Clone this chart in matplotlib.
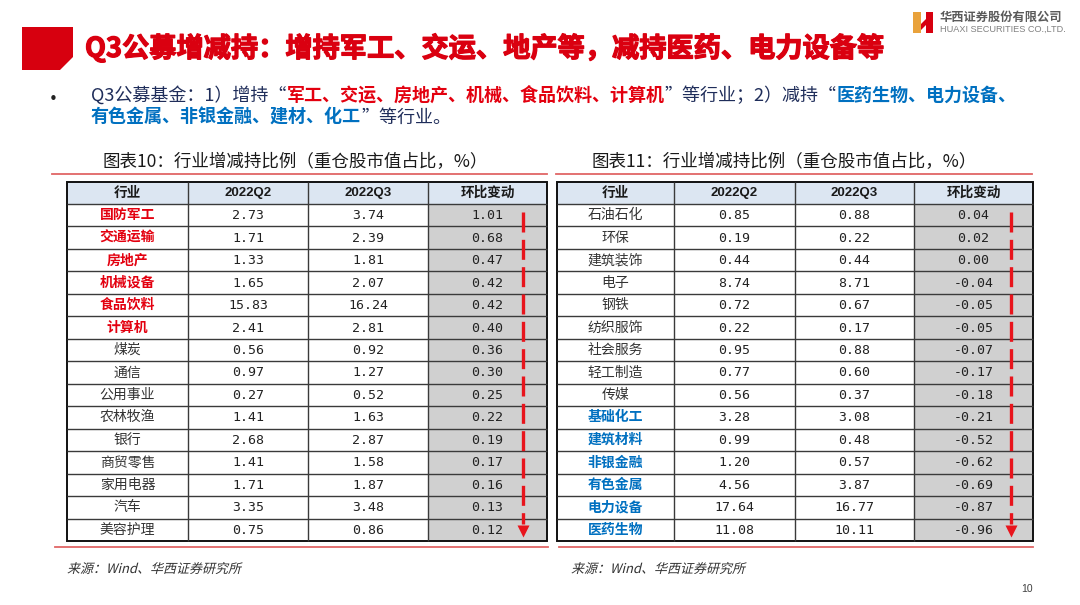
import matplotlib
matplotlib.use('Agg')
import matplotlib.pyplot as plt
import matplotlib.patheffects as pe
from matplotlib.patches import Rectangle, Polygon, PathPatch
from matplotlib.textpath import TextPath
from matplotlib.font_manager import FontProperties
from matplotlib.transforms import Affine2D

plt.rcParams['font.family'] = ['Noto Sans CJK SC', 'DejaVu Sans']

# ---- data ----
header = ['行业', '2022Q2', '2022Q3', '环比变动']

left_names = ['国防军工', '交通运输', '房地产', '机械设备', '食品饮料', '计算机', '煤炭', '通信',
              '公用事业', '农林牧渔', '银行', '商贸零售', '家用电器', '汽车', '美容护理']
left_q2 = [2.73, 1.71, 1.33, 1.65, 15.83, 2.41, 0.56, 0.97, 0.27, 1.41, 2.68, 1.41, 1.71, 3.35, 0.75]
left_q3 = [3.74, 2.39, 1.81, 2.07, 16.24, 2.81, 0.92, 1.27, 0.52, 1.63, 2.87, 1.58, 1.87, 3.48, 0.86]
left_chg = [1.01, 0.68, 0.47, 0.42, 0.42, 0.40, 0.36, 0.30, 0.25, 0.22, 0.19, 0.17, 0.16, 0.13, 0.12]
left_hot = ['国防军工', '交通运输', '房地产', '机械设备', '食品饮料', '计算机']

right_names = ['石油石化', '环保', '建筑装饰', '电子', '钢铁', '纺织服饰', '社会服务', '轻工制造',
               '传媒', '基础化工', '建筑材料', '非银金融', '有色金属', '电力设备', '医药生物']
right_q2 = [0.85, 0.19, 0.44, 8.74, 0.72, 0.22, 0.95, 0.77, 0.56, 3.28, 0.99, 1.20, 4.56, 17.64, 11.08]
right_q3 = [0.88, 0.22, 0.44, 8.71, 0.67, 0.17, 0.88, 0.60, 0.37, 3.08, 0.48, 0.57, 3.87, 16.77, 10.11]
right_chg = [0.04, 0.02, 0.00, -0.04, -0.05, -0.05, -0.07, -0.17, -0.18, -0.21, -0.52, -0.62, -0.69, -0.87, -0.96]
right_cold = ['基础化工', '建筑材料', '非银金融', '有色金属', '电力设备', '医药生物']

title = 'Q3公募增减持：增持军工、交运、地产等，减持医药、电力设备等'
line1 = [('Q3公募基金：1）增持“', 'n'), ('军工、交运、房地产、机械、食品饮料、计算机', 'r'),
         ('”等行业；2）减持“', 'n'), ('医药生物、电力设备、', 'b')]
line2 = [('有色金属、非银金融、建材、化工', 'b'), ('”等行业。', 'n')]
chart_titles = ['图表10：行业增减持比例（重仓股市值占比，%）', '图表11：行业增减持比例（重仓股市值占比，%）']
source = '来源：Wind、华西证券研究所'

RED = '#E3000F'
BLUE = '#0070C0'
NAVY = '#1F2D5A'
LINE_RED = '#E06666'
ARROW_RED = '#E8141C'

fig = plt.figure(figsize=(10.8, 6.05), dpi=100)
ax = fig.add_axes([0, 0, 1, 1])
ax.set_xlim(0, 1080)
ax.set_ylim(605, 0)
ax.axis('off')
renderer = fig.canvas.get_renderer()

# ---- header block ----
ax.add_patch(Polygon([(22, 27), (73, 27), (73, 57), (60, 70), (22, 70)], closed=True,
                     fc='#D7000F', ec='none'))
ax.text(85, 48, title, fontsize=19.6, fontweight='heavy', color='#DA0010', va='center', ha='left',
        path_effects=[pe.withStroke(linewidth=0.9, foreground='#DA0010')])

# logo
ax.add_patch(Polygon([(913, 12), (921, 12), (921, 33), (913, 33)], fc='#E9A23B', ec='none'))
ax.add_patch(Polygon([(926, 12), (933, 12), (933, 33), (926, 33)], fc='#D7000F', ec='none'))
ax.add_patch(Polygon([(921, 24), (926, 19), (926, 25), (921, 30)], fc='#D7000F', ec='none'))
ax.text(940, 17.5, '华西证券股份有限公司', fontsize=8.8, fontweight='bold', color='#5A5A5A',
        va='center', ha='left')
ax.text(940, 29.5, 'HUAXI SECURITIES CO.,LTD.', fontsize=6.6, color='#808080',
        family=['Liberation Sans', 'DejaVu Sans'], va='center', ha='left')

# bullet text
ax.text(53, 99, '•', fontsize=11, color='#222222', va='center', ha='center',
        family=['DejaVu Sans'])
styles = {'n': (NAVY, 'normal'), 'r': (RED, 'bold'), 'b': (BLUE, 'bold')}


def rich_line(x, y, parts, size):
    for txt, key in parts:
        col, wt = styles[key]
        t = ax.text(x, y, txt, fontsize=size, color=col, fontweight=wt, va='baseline', ha='left')
        x += t.get_window_extent(renderer).width


rich_line(91, 101, line1, 13.0)
rich_line(91, 123, line2, 13.0)


def italic_text(x, y, txt, size_px, color):
    # slanted text drawn as a path (the CJK font has no italic face)
    path = TextPath((0, 0), txt, size=size_px, prop=FontProperties(family='Noto Sans CJK SC'))
    tr = Affine2D().skew_deg(14, 0).scale(1, -1).translate(x, y) + ax.transData
    ax.add_patch(PathPatch(path, transform=tr, fc=color, ec='none'))


# ---- tables ----
def draw_table(x_edges, names, q2, q3, chg, special, special_color, arrow_x, title_txt, title_x,
               line_x):
    top, head_bot, bottom = 182, 204, 541
    n = len(names)
    row_h = (bottom - head_bot) / n

    ax.text(title_x, 162, title_txt, fontsize=12.6, color='#1A1A1A', va='center', ha='left',
            fontweight='medium')
    ax.plot([line_x[0], line_x[1]], [174, 174], color=LINE_RED, lw=1.3)
    ax.plot([line_x[0] + 3, line_x[1] + 1], [547, 547], color=LINE_RED, lw=1.3)

    for j in range(4):
        ax.add_patch(Rectangle((x_edges[j], top), x_edges[j + 1] - x_edges[j], head_bot - top,
                               fc='#DCE6F2', ec='none'))
    ax.add_patch(Rectangle((x_edges[3], head_bot), x_edges[4] - x_edges[3], bottom - head_bot,
                           fc='#D0D0D0', ec='none'))

    for j, h in enumerate(header):
        cx = (x_edges[j] + x_edges[j + 1]) / 2
        if j in (1, 2):
            ax.text(cx, (top + head_bot) / 2, h, fontsize=9.5, fontweight='bold',
                    family=['Liberation Sans', 'DejaVu Sans'], color='#1A1A1A',
                    va='center', ha='center')
        else:
            ax.text(cx, (top + head_bot) / 2, h, fontsize=9.8, fontweight='bold',
                    color='#1A1A1A', va='center', ha='center')

    centers = [(x_edges[j] + x_edges[j + 1]) / 2 for j in range(4)]
    for i in range(n):
        cy = head_bot + (i + 0.5) * row_h
        if names[i] in special:
            ax.text(centers[0], cy, names[i], fontsize=10, fontweight='bold', color=special_color,
                    va='center', ha='center')
        else:
            ax.text(centers[0], cy, names[i], fontsize=10, color='#333333',
                    va='center', ha='center')
        for j, v in ((1, q2[i]), (2, q3[i]), (3, chg[i])):
            ax.text(centers[j], cy + 0.5, f'{v:.2f}', fontsize=9.5, color='#222222',
                    family=['DejaVu Sans Mono'], va='center', ha='center')

    # grid
    ys = [top, head_bot] + [head_bot + (i + 1) * row_h for i in range(n)]
    ax.hlines(ys[1:-1], x_edges[0], x_edges[-1], color='#3A3A3A', lw=1.0)
    ax.vlines(x_edges[1:-1], top, bottom, color='#3A3A3A', lw=1.0)
    ax.add_patch(Rectangle((x_edges[0], top), x_edges[-1] - x_edges[0], bottom - top,
                           fc='none', ec='#111111', lw=1.4))

    # red dashed arrow
    ax.plot([arrow_x, arrow_x], [212, 524], color=ARROW_RED, lw=2.4, ls=(0, (6.0, 2.2)),
            solid_capstyle='butt', dash_capstyle='butt')
    ax.plot([arrow_x], [531], marker='v', ms=8, color=ARROW_RED, mec='none')

    italic_text(line_x[0] + 15, 573, source, 13.0, '#333333')


draw_table([67, 188, 308, 428, 547], left_names, left_q2, left_q3, left_chg, left_hot, RED,
           523, chart_titles[0], 103, (52, 547))
draw_table([557, 674, 795, 914, 1033], right_names, right_q2, right_q3, right_chg, right_cold,
           BLUE, 1011, chart_titles[1], 592, (556, 1032))

ax.text(1027, 589, '10', fontsize=7.5, color='#404040', va='center', ha='center',
        family=['Liberation Sans', 'DejaVu Sans'])

fig.savefig('out.png', dpi=100)
